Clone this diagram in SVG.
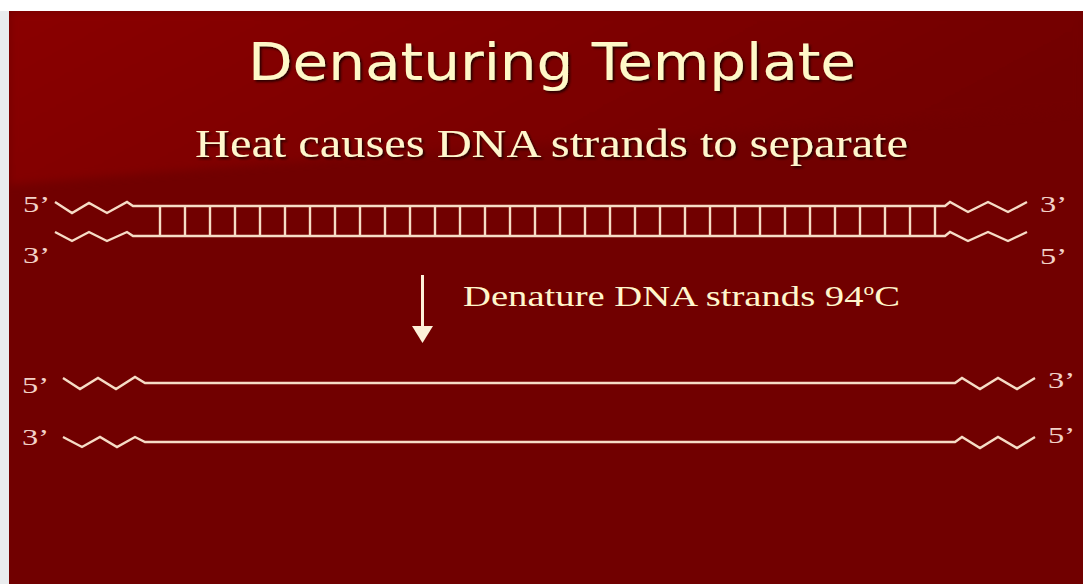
<svg xmlns="http://www.w3.org/2000/svg" width="1083" height="584" viewBox="0 0 1083 584">
<defs>
<linearGradient id="band" x1="0" y1="0" x2="1" y2="0.3">
<stop offset="0" stop-color="#8a0202"/>
<stop offset="0.6" stop-color="#7c0000"/>
<stop offset="1" stop-color="#720000"/>
</linearGradient>
<filter id="sh" x="-5%" y="-20%" width="110%" height="140%">
<feDropShadow dx="2" dy="2" stdDeviation="1" flood-color="#200000" flood-opacity="0.9"/>
</filter>
<filter id="soft" x="-5%" y="-5%" width="110%" height="110%">
<feGaussianBlur stdDeviation="4"/>
</filter>
</defs>
<style>
.strand{fill:none;stroke:#f6dcc6;stroke-width:2.4;stroke-linejoin:miter}
.rung{stroke:#f6dcc6;stroke-width:2.4}
.end{font-family:"Liberation Serif",serif;font-size:23px;fill:#f2d2c8}
.sub{font-family:"Liberation Serif",serif;fill:#fff6cc}
</style>
<rect x="0" y="0" width="1083" height="584" fill="#ffffff"/>
<rect x="9" y="11" width="1074" height="573" fill="#710000"/>
<path d="M9,11 H1083 V110 C800,130 400,150 9,185 Z" fill="url(#band)" filter="url(#soft)"/>
<rect x="0" y="0" width="1083" height="11" fill="#ffffff"/>
<rect x="0" y="11" width="9" height="573" fill="#e9ecee"/>

<g id="title">
<text x="248" y="80" textLength="608" lengthAdjust="spacingAndGlyphs" font-family="DejaVu Sans, sans-serif" font-size="52" fill="#fff8c8" filter="url(#sh)">Denaturing Template</text>
</g>
<g id="subtitle">
<text x="195" y="157" textLength="713" lengthAdjust="spacingAndGlyphs" class="sub" font-size="39" filter="url(#sh)">Heat causes DNA strands to separate</text>
</g>

<g id="double-strand">
<polyline class="strand" points="55,202 72,213 89,203 107,213 127,202 133,206 945,206 950,202 968,212 988,202 1008,212 1027,202"/>
<polyline class="strand" points="55,232 72,241 89,232 107,241 127,232 133,236 945,236 950,232 968,241 988,232 1008,241 1027,232"/>
<g id="rungs">
<path class="rung" d="M160,206V236M185,206V236M210,206V236M235,206V236M260,206V236M285,206V236M310,206V236M335,206V236M360,206V236M385,206V236M410,206V236M435,206V236M460,206V236M485,206V236M510,206V236M535,206V236M560,206V236M585,206V236M610,206V236M635,206V236M660,206V236M685,206V236M710,206V236M735,206V236M760,206V236M785,206V236M810,206V236M835,206V236M860,206V236M885,206V236M910,206V236M935,206V236"/>
</g>
<text class="end" x="23" y="212" textLength="27" lengthAdjust="spacingAndGlyphs">5’</text>
<text class="end" x="23" y="263" textLength="27" lengthAdjust="spacingAndGlyphs">3’</text>
<text class="end" x="1040" y="212" textLength="27" lengthAdjust="spacingAndGlyphs">3’</text>
<text class="end" x="1040" y="264" textLength="27" lengthAdjust="spacingAndGlyphs">5’</text>
</g>

<g id="connectors">
<line x1="422.5" y1="275" x2="422.5" y2="330" stroke="#fdf0d8" stroke-width="3"/>
<polygon points="412,326 433,326 422.5,343" fill="#fdf0d8"/>
</g>
<g id="step-label">
<text x="463" y="306" textLength="437" lengthAdjust="spacingAndGlyphs" class="sub" font-size="29">Denature DNA strands 94<tspan font-size="16" dy="-11">o</tspan><tspan dy="11">C</tspan></text>
</g>

<g id="strand-top">
<polyline class="strand" points="63,378 80,389 98,378 116,389 135,377 145,383 955,383 962,378 980,389 998,378 1017,389 1035,378"/>
<text class="end" x="22" y="393" textLength="27" lengthAdjust="spacingAndGlyphs">5’</text>
<text class="end" x="1048" y="388" textLength="27" lengthAdjust="spacingAndGlyphs">3’</text>
</g>
<g id="strand-bottom">
<polyline class="strand" points="63,437 82,447 100,437 117,447 135,437 145,442 955,442 962,437 980,448 998,437 1017,448 1035,437"/>
<text class="end" x="22" y="445" textLength="27" lengthAdjust="spacingAndGlyphs">3’</text>
<text class="end" x="1048" y="443" textLength="27" lengthAdjust="spacingAndGlyphs">5’</text>
</g>
</svg>
